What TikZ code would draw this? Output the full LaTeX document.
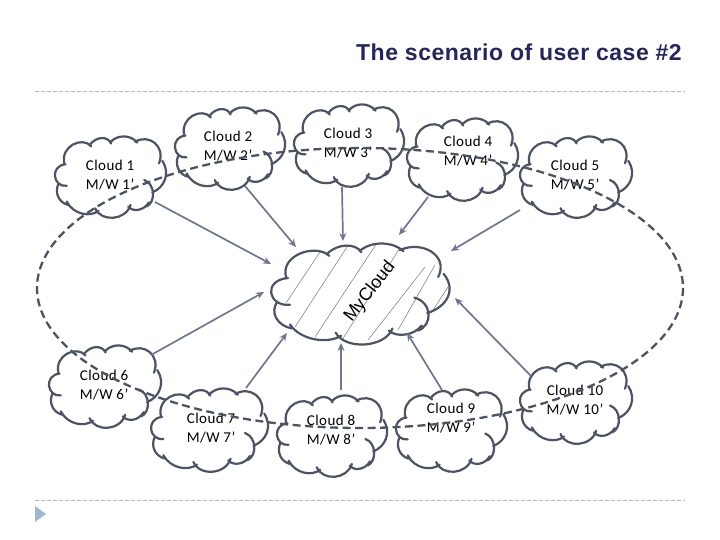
\documentclass[tikz,border=0pt]{standalone}
\usepackage{fontspec}
\setmainfont{Liberation Sans}
\newfontfamily\titlefont[LetterSpace=2.2]{Liberation Sans}
\newfontfamily\cloudfont[LetterSpace=3]{Carlito}
\definecolor{cloudgrey}{HTML}{4E5364}
\definecolor{arrowgrey}{HTML}{70768F}
\definecolor{rulegrey}{HTML}{B4B8BC}
\definecolor{tipblue}{HTML}{9FB6D0}
\definecolor{titlenavy}{HTML}{262659}
\usetikzlibrary{arrows.meta}
\tikzset{
  cloudline/.style={draw=cloudgrey,line width=2.2pt,line cap=round},
  feed/.style={draw=arrowgrey,line width=1.7pt,-{Stealth[length=8pt,width=7pt]}},
  loopline/.style={draw=cloudgrey,line width=2.3pt,dash pattern=on 8pt off 4.5pt},
  hatchline/.style={draw=cloudgrey!80,line width=0.5pt},
  rulerline/.style={draw=rulegrey,line width=0.9pt,dash pattern=on 4pt off 2pt},
  cloudtext/.style={inner sep=0pt,align=center,text=black,font=\cloudfont\fontsize{15}{19}\selectfont},
}
\newcommand{\cloudoutline}{
  (0.10,0.34) .. controls (0.06,0.12) and (0.26,0.0) .. (0.335,0.125)
  (0.32,0.11) .. controls (0.38,0.0) and (0.48,0.0) .. (0.51,0.09)
  (0.50,0.08) .. controls (0.56,-0.02) and (0.68,-0.02) .. (0.74,0.08)
  (0.72,0.07) .. controls (0.84,-0.03) and (0.99,0.12) .. (0.93,0.33)
  (0.96,0.30) .. controls (1.03,0.45) and (0.98,0.62) .. (0.87,0.68)
  (0.80,0.53) .. controls (0.90,0.58) and (0.90,0.80) .. (0.82,0.85)
  (0.84,0.80) .. controls (0.80,0.90) and (0.70,0.92) .. (0.66,0.85)
  (0.68,0.83) .. controls (0.64,1.02) and (0.42,1.04) .. (0.37,0.87)
  (0.40,0.90) .. controls (0.33,0.98) and (0.18,0.95) .. (0.12,0.79)
  (0.13,0.83) .. controls (0.05,0.80) and (0.01,0.68) .. (0.05,0.57)
  (0.12,0.60) .. controls (0.0,0.62) and (-0.03,0.36) .. (0.11,0.34)
}
\newcommand{\drawcloud}[4]{%
  \draw[cloudline,shift={(#1,#2)},xscale=#3,yscale=#4] \cloudoutline;
}
\begin{document}
\begin{tikzpicture}[x=1pt,y=-1pt]
\useasboundingbox (0,0) rectangle (720,540);
\fill[white] (0,0) rectangle (720,540);
\node[anchor=base east,inner sep=0pt,text=titlenavy,font=\titlefont\bfseries\fontsize{23}{27}\selectfont] (title) at (682,61) {The scenario of user case \#2};
\coordinate (ruleAl) at (35,91); \coordinate (ruleAr) at (685,91);
\coordinate (ruleBl) at (35,500); \coordinate (ruleBr) at (685,500);
\draw[rulerline] (ruleAl) -- (ruleAr);
\draw[rulerline] (ruleBl) -- (ruleBr);
\fill[tipblue] (35,506) -- (46,514) -- (35,522) -- cycle;

% MyCloud hatching
\begin{scope}
\clip[shift={(268,243)},xscale=183,yscale=103]
  (0.10,0.34) .. controls (0.06,0.12) and (0.26,0.0) .. (0.33,0.12)
  .. controls (0.38,0.0) and (0.48,0.0) .. (0.51,0.09)
  .. controls (0.56,-0.02) and (0.68,-0.02) .. (0.73,0.08)
  .. controls (0.84,-0.03) and (0.99,0.12) .. (0.95,0.32)
  .. controls (1.03,0.45) and (0.98,0.62) .. (0.87,0.68)
  .. controls (0.88,0.74) and (0.88,0.80) .. (0.82,0.85)
  .. controls (0.78,0.90) and (0.70,0.92) .. (0.67,0.85)
  .. controls (0.64,1.02) and (0.42,1.04) .. (0.38,0.88)
  .. controls (0.33,0.98) and (0.18,0.95) .. (0.12,0.80)
  .. controls (0.05,0.80) and (0.01,0.68) .. (0.07,0.58)
  .. controls (0.0,0.50) and (0.0,0.36) .. (0.10,0.34) -- cycle;
\foreach \ax/\ay/\bx/\by in {320/252/286/303, 347/247/295/327, 377/243/315/337, 403/243/342/340, 425/267/368/340, 435/265/398/330, 448/287/433/310}
  \draw[hatchline] (\ax,\ay) -- (\bx,\by);
\end{scope}

% outlines
\drawcloud{53}{136}{114}{83}
\drawcloud{173}{107}{113}{84}
\drawcloud{292}{104}{113}{84}
\drawcloud{405}{118}{114}{84}
\drawcloud{518}{136}{115}{83}
\drawcloud{47}{345}{115}{84}
\drawcloud{149}{388}{120}{85}
\drawcloud{275}{395}{113}{83}
\drawcloud{394}{389}{114}{84}
\drawcloud{518}{361}{115}{84}
\drawcloud{268}{243}{183}{103}

% named nodes
\node[cloudtext] (c1) at (110,175) {Cloud 1\\M/W 1’};
\node[cloudtext] (c2) at (228,146) {Cloud 2\\M/W 2’};
\node[cloudtext] (c3) at (348,143) {Cloud 3\\M/W 3’};
\node[cloudtext] (c4) at (468,151) {Cloud 4\\M/W 4’};
\node[cloudtext] (c5) at (575,175) {Cloud 5\\M/W 5’};
\node[cloudtext] (c6) at (104,385) {Cloud 6\\M/W 6’};
\node[cloudtext] (c7) at (211,428) {Cloud 7\\M/W 7’};
\node[cloudtext] (c8) at (331,430) {Cloud 8\\M/W 8’};
\node[cloudtext] (c9) at (451,418) {Cloud 9\\M/W 9’};
\node[cloudtext] (c10) at (575,400) {Cloud 10\\M/W 10’};
\node[inner sep=0pt,rotate=52,font=\fontsize{18}{20}\selectfont] (my) at (370,292) {MyCloud};

% dashed loop
\coordinate (loopc) at (360,288);
\draw[loopline] (loopc) ellipse [x radius=323,y radius=140];

% connectors
\draw[feed] ([shift={(45,27)}]c1.center) -- ([shift={(-99,-28)}]my.center);
\draw[feed] ([shift={(17,40)}]c2.center) -- ([shift={(-74,-45)}]my.center);
\draw[feed] ([shift={(-6,44)}]c3.center) -- ([shift={(-27,-51)}]my.center);
\draw[feed] ([shift={(-40,46)}]c4.center) -- ([shift={(29,-57)}]my.center);
\draw[feed] ([shift={(-55,35)}]c5.center) -- ([shift={(81,-41)}]my.center);
\draw[feed] ([shift={(47,-30)}]c6.center) -- ([shift={(-106,0)}]my.center);
\draw[feed] ([shift={(35,-40)}]c7.center) -- ([shift={(-83,41)}]my.center);
\draw[feed] ([shift={(10,-40)}]c8.center) -- ([shift={(-29,51)}]my.center);
\draw[feed] ([shift={(-9,-28)}]c9.center) -- ([shift={(37,41)}]my.center);
\draw[feed] ([shift={(-44,-24)}]c10.center) -- ([shift={(85,6)}]my.center);
\end{tikzpicture}
\end{document}
